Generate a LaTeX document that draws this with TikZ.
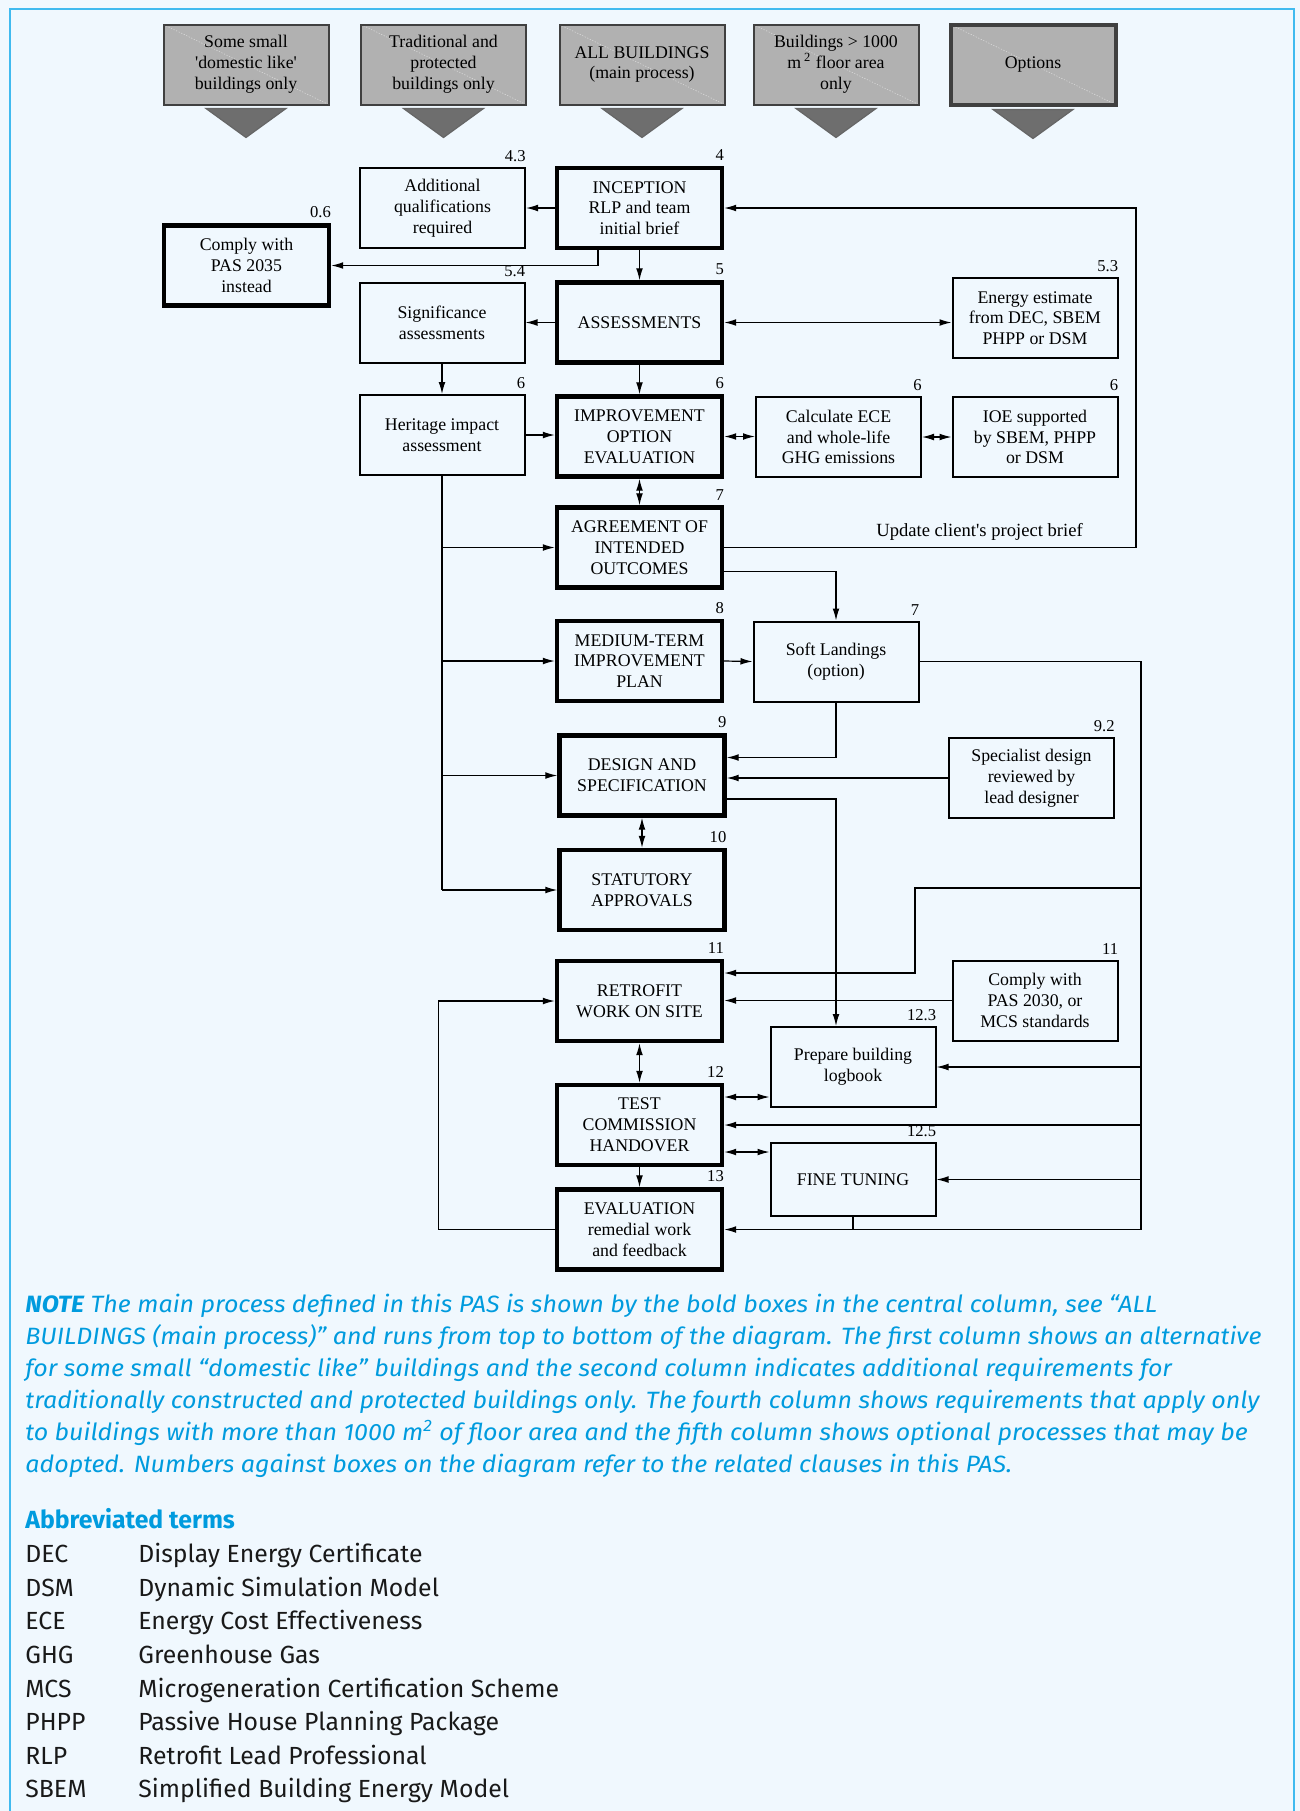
\documentclass[tikz,border=0pt]{standalone}
\usepackage{fontspec}
\setmainfont{Liberation Serif}
\newfontfamily\notefont{Fira Sans}
\newfontfamily\notewide[FakeStretch=1.06]{Fira Sans}
\usetikzlibrary{arrows.meta,calc}

\definecolor{pagebg}{RGB}{240,248,254}
\definecolor{framecol}{RGB}{64,186,239}
\definecolor{notecol}{RGB}{0,155,222}
\definecolor{hdfill}{RGB}{177,177,177}
\definecolor{trifill}{RGB}{110,110,110}

\tikzset{
  box/.style={draw, line width=1pt, minimum width=82.5pt, minimum height=40pt,
    align=center, inner sep=2pt, font=\fontsize{8.9}{10.4}\selectfont},
  mainbox/.style={box, line width=2.2pt},
  headbox/.style={box, fill=hdfill, draw=black!75,
    path picture={\draw[white, opacity=0.5, line width=0.3pt, dash pattern=on 0.6pt off 0.8pt]
      (path picture bounding box.north west) -- (path picture bounding box.south east);}},
  tri/.style={fill=trifill, draw=black!60, line width=0.6pt},
  clause/.style={anchor=south east, inner sep=0pt, yshift=2.4pt, font=\fontsize{8.3}{9}\selectfont},
  wire/.style={line width=0.6pt},
  arr/.style={wire, -{Latex[length=6pt,width=3.4pt]}},
  darr/.style={wire, {Latex[length=6pt,width=3.4pt]}-{Latex[length=6pt,width=3.4pt]}},
  notetext/.style={anchor=base west, inner sep=0pt, text=notecol,
    font=\notewide\itshape\fontsize{11.8}{16}\selectfont},
  abbr/.style={anchor=base west, inner sep=0pt, text=black!90,
    font=\notefont\fontsize{12.4}{16}\selectfont},
}
\newcommand{\clause}[2]{\node[clause] (#1no) at (#1.north east) {#2};}

\begin{document}
\begin{tikzpicture}[x=0.5pt,y=-0.5pt]
\fill[pagebg] (0,0) rectangle (1300,1811);
\useasboundingbox (0,0) rectangle (1300,1811);
\draw[framecol, line width=1pt] (10,1811) -- (10,9) -- (1294,9) -- (1294,1811);

% column headings
\node[headbox] (hd1) at (246,64.5) {Some small\\\textquotesingle domestic like\textquotesingle\\buildings only};
\node[headbox] (hd2) at (443.5,64.5) {Traditional and\\protected\\buildings only};
\node[headbox] (hd3) at (642,64.5) {ALL BUILDINGS\\(main process)};
\node[headbox] (hd4) at (836,64.5) {Buildings > 1000\\m\,\textsuperscript{2} floor area\\only};
\node[headbox, line width=2pt] (hd5) at (1033,64.5) {Options};
\foreach \h in {hd1,hd2,hd3,hd4,hd5}
  \filldraw[tri] ($(\h.south)+(-40,3)$) -- ($(\h.south)+(40,3)$) -- ($(\h.south)+(0,32)$) -- cycle;

% boxes
\node[box] (addq) at (442.5,208) {Additional\\qualifications\\required};
\node[mainbox] (incep) at (639.5,208) {INCEPTION\\RLP and team\\initial brief};
\node[mainbox] (pas35) at (246.5,265.5) {Comply with\\PAS 2035\\instead};
\node[box] (signif) at (442,322.5) {Significance\\assessments};
\node[mainbox] (assess) at (639.5,322.5) {ASSESSMENTS};
\node[box] (energy) at (1035,318) {Energy estimate\\from DEC, SBEM\\PHPP or DSM};
\node[box] (herit) at (442,435) {Heritage impact\\assessment};
\node[mainbox] (improve) at (639.5,436.5) {IMPROVEMENT\\OPTION\\EVALUATION};
\node[box] (calc) at (838.5,437) {Calculate ECE\\and whole-life\\GHG emissions};
\node[box] (ioe) at (1035,437) {IOE supported\\by SBEM, PHPP\\or DSM};
\node[mainbox] (agree) at (639.5,547.5) {AGREEMENT OF\\INTENDED\\OUTCOMES};
\node[mainbox] (medium) at (639.5,661) {MEDIUM-TERM\\IMPROVEMENT\\PLAN};
\node[box] (soft) at (836,661.5) {Soft Landings\\(option)};
\node[mainbox] (design) at (642,775.5) {DESIGN AND\\SPECIFICATION};
\node[box] (spec) at (1031.5,778) {Specialist design\\reviewed by\\lead designer};
\node[mainbox] (stat) at (642,890) {STATUTORY\\APPROVALS};
\node[mainbox] (retro) at (639.5,1001) {RETROFIT\\WORK ON SITE};
\node[box] (pas30) at (1035,1000.5) {Comply with\\PAS 2030, or\\MCS standards};
\node[box] (logbk) at (853,1067) {Prepare building\\logbook};
\node[mainbox] (test) at (639.5,1125) {TEST\\COMMISSION\\HANDOVER};
\node[box, minimum height=36.5pt] (fine) at (853,1179.5) {FINE TUNING};
\node[mainbox] (evalu) at (639.5,1229.5) {EVALUATION\\remedial work\\and feedback};

% clause numbers
\clause{addq}{4.3} \clause{incep}{4} \clause{pas35}{0.6}
\clause{signif}{5.4} \clause{assess}{5} \clause{energy}{5.3}
\clause{herit}{6} \clause{improve}{6} \clause{calc}{6} \clause{ioe}{6}
\clause{agree}{7} \clause{medium}{8} \clause{soft}{7}
\clause{design}{9} \clause{spec}{9.2} \clause{stat}{10}
\clause{retro}{11} \clause{pas30}{11} \clause{logbk}{12.3}
\clause{test}{12} \clause{fine}{12.5} \clause{evalu}{13}

% connectors, top part
\coordinate (busy) at (1136,0);
\coordinate (busx) at (1141,0);
\coordinate (rjoin) at (915,888);
\draw[arr] (incep.west) -- (addq.east);
\draw[arr] (incep.south) -- (assess.north);
\draw[arr] ($(incep.south)+(-41.5,0)$) |- (pas35.east);
\draw[arr] (assess.west) -- (signif.east);
\draw[darr] (assess.east) -- (energy.west |- assess.east);
\draw[arr] (signif.south) -- (herit.north);
\draw[arr] (assess.south) -- (improve.north);
\draw[arr] (herit.east) -- (improve.west |- herit.east);
\draw[darr] (improve.east) -- (calc.west |- improve.east);
\draw[darr] (calc.east) -- (ioe.west);
\draw[darr] (improve.south) -- (agree.north);
\draw[wire] (herit.south) -- (herit.south |- stat.west);
\foreach \n in {agree,medium,design,stat}
  \draw[arr] (herit.south |- \n.west) -- (\n.west);
\draw[arr] (agree.east) -- node[above, pos=0.62, font=\fontsize{9.3}{10}\selectfont]
  {Update client\textquotesingle s project brief} (agree.east -| busy) |- (incep.east);
\draw[arr] ($(agree.east)+(0,24)$) -| (soft.north);
\draw[arr] (medium.east) -- (soft.west);
\draw[arr] (soft.south) |- ($(design.east)+(0,-18)$);
\draw[arr] (spec.west) -- (spec.west -| design.east);
\draw[darr] (design.south) -- (stat.north);

% connectors, lower part
\draw[arr] ($(design.east)+(0,23.5)$) -| (soft.south |- logbk.north);
\draw[arr] (soft.east) -| (busx |- evalu.east) -- (evalu.east);
\foreach \n in {logbk,test,fine}
  \draw[arr] (busx |- \n.east) -- (\n.east);
\draw[arr] (rjoin -| busx) -- (rjoin) |- ($(retro.east)+(0,-28)$);
\draw[arr] (pas30.west) -- (pas30.west -| retro.east);
\draw[darr] (retro.south) -- (test.north);
\draw[darr] ($(test.east)+(0,-28)$) -- (logbk.west |- {$(test.east)+(0,-28)$});
\draw[darr] ($(test.east)+(0,27)$) -- (fine.west |- {$(test.east)+(0,27)$});
\draw[arr] (test.south) -- (evalu.north);
\draw[wire] (fine.south) -- (fine.south |- evalu.east);
\draw[arr] (evalu.west) -- ++(-116,0) |- (retro.west);

% note
\foreach \txt [count=\i] in {
  {\textbf{NOTE} The main process defined in this PAS is shown by the bold boxes in the central column, see “ALL},
  {BUILDINGS (main process)” and runs from top to bottom of the diagram. The first column shows an alternative},
  {for some small “domestic like” buildings and the second column indicates additional requirements for},
  {traditionally constructed and protected buildings only. The fourth column shows requirements that apply only},
  {to buildings with more than 1000 m\textsuperscript{2} of floor area and the fifth column shows optional processes that may be},
  {adopted. Numbers against boxes on the diagram refer to the related clauses in this PAS.}}
  \node[notetext] (note\i) at (25,{1312+32*(\i-1)}) {\txt};

% abbreviated terms
\node[abbr, text=notecol, font=\notefont\bfseries\fontsize{12.4}{16}\selectfont] (abbrhead) at (25,1528) {Abbreviated terms};
\foreach \ab/\full [count=\i] in {DEC/Display Energy Certificate, DSM/Dynamic Simulation Model,
  ECE/Energy Cost Effectiveness, GHG/Greenhouse Gas, MCS/Microgeneration Certification Scheme,
  PHPP/Passive House Planning Package, RLP/Retrofit Lead Professional, SBEM/Simplified Building Energy Model} {
  \node[abbr] (ab\i) at (25,{1562.7+33.6*(\i-1)}) {\ab};
  \node[abbr] (abfull\i) at (138,{1562.7+33.6*(\i-1)}) {\full};
}
\end{tikzpicture}
\end{document}
